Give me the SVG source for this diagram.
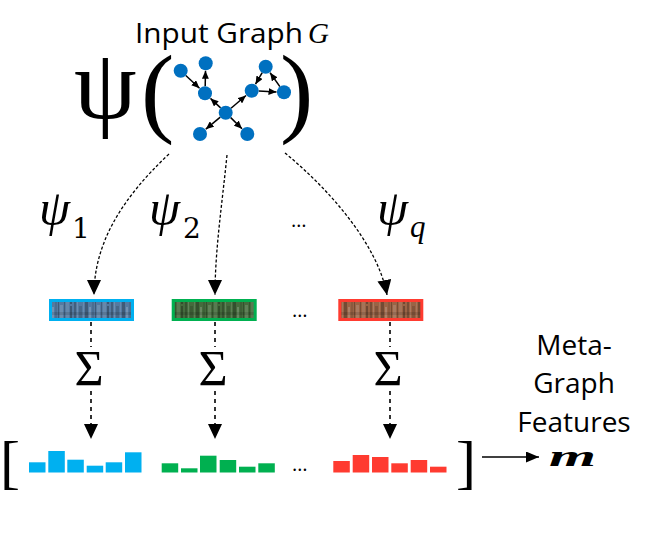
<svg xmlns="http://www.w3.org/2000/svg" width="658" height="539" viewBox="0 0 658 539">
<style>
.sans{font-family:"Open Sans","Liberation Sans",sans-serif;fill:#000}
.serif{font-family:"Liberation Serif","DejaVu Serif",serif;fill:#000}
.dj{font-family:"DejaVu Serif","Liberation Serif",serif;fill:#000}
.it{font-style:italic}
.gn{fill:#0070C0}
.ge{stroke:#000;stroke-width:1.5;fill:none;marker-end:url(#ahS)}
.dc{stroke:#000;stroke-width:1.3;fill:none;stroke-dasharray:3 2;marker-end:url(#ahB)}
.dv{stroke:#000;stroke-width:1.6;fill:none;stroke-dasharray:4 4}
.dva{stroke:#000;stroke-width:1.6;fill:none;stroke-dasharray:4 4;marker-end:url(#ahB)}
.bb{fill:#00B0F0}
.bg{fill:#00B050}
.br{fill:#FF3B30}
</style>
<defs>
<marker id="ahS" markerUnits="userSpaceOnUse" markerWidth="8" markerHeight="7" viewBox="0 0 8 7" refX="8" refY="3.5" orient="auto"><path d="M0,0 L8,3.5 L0,7 z" fill="#000"/></marker>
<marker id="ahB" markerUnits="userSpaceOnUse" markerWidth="15" markerHeight="14" viewBox="0 0 15 14" refX="15" refY="7" orient="auto"><path d="M0,0 L15,7 L0,14 z" fill="#000"/></marker>
<marker id="ahM" markerUnits="userSpaceOnUse" markerWidth="13" markerHeight="11" viewBox="0 0 13 11" refX="13" refY="5.5" orient="auto"><path d="M0,0 L13,5.5 L0,11 z" fill="#000"/></marker>
<pattern id="tex" patternUnits="userSpaceOnUse" width="37" height="19">
<rect x="0" y="0" width="2" height="19" fill="#000" fill-opacity="0.22"/>
<rect x="3" y="0" width="1" height="19" fill="#fff" fill-opacity="0.15"/>
<rect x="5" y="2" width="3" height="13" fill="#000" fill-opacity="0.15"/>
<rect x="9" y="0" width="1" height="19" fill="#fff" fill-opacity="0.12"/>
<rect x="11" y="0" width="3" height="19" fill="#000" fill-opacity="0.25"/>
<rect x="15" y="3" width="2" height="12" fill="#fff" fill-opacity="0.18"/>
<rect x="18" y="0" width="2" height="19" fill="#000" fill-opacity="0.1"/>
<rect x="21" y="0" width="1" height="19" fill="#000" fill-opacity="0.25"/>
<rect x="23" y="1" width="3" height="14" fill="#fff" fill-opacity="0.14"/>
<rect x="27" y="0" width="1" height="19" fill="#000" fill-opacity="0.22"/>
<rect x="29" y="0" width="3" height="19" fill="#fff" fill-opacity="0.1"/>
<rect x="33" y="2" width="2" height="17" fill="#000" fill-opacity="0.28"/>
<rect x="0" y="8" width="37" height="3" fill="#000" fill-opacity="0.12"/>
</pattern>
</defs>

<!-- Input graph node -->
<g id="input-graph">
<text class="sans" x="135" y="43" font-size="28"><tspan textLength="168" lengthAdjust="spacingAndGlyphs">Input Graph</tspan><tspan x="308" font-family="Liberation Serif, serif" font-style="italic" font-size="29">G</tspan></text>
<text class="serif" x="74" y="118" font-size="100">ψ</text>
<text class="serif" x="141" y="124" font-size="100">(</text>
<text class="serif" x="280" y="124" font-size="100">)</text>
<g id="graph-edges">
<line class="ge" x1="185.8" y1="75.5" x2="199.5" y2="88.2"/>
<line class="ge" x1="205.2" y1="86.3" x2="205.5" y2="70.8"/>
<line class="ge" x1="220.6" y1="107.9" x2="210.5" y2="98.4"/>
<line class="ge" x1="231.0" y1="108.2" x2="246.0" y2="95.5"/>
<line class="ge" x1="220.3" y1="117.2" x2="205.8" y2="129.2"/>
<line class="ge" x1="230.7" y1="117.6" x2="242.0" y2="128.7"/>
<line class="ge" x1="258.7" y1="91.0" x2="276.5" y2="91.9"/>
<line class="ge" x1="279.9" y1="86.6" x2="270.1" y2="72.8"/>
<line class="ge" x1="262.2" y1="72.7" x2="255.5" y2="84.2"/>
</g>
<circle id="gA" class="gn" cx="180.7" cy="70.7" r="7"/>
<circle id="gB" class="gn" cx="205.7" cy="63.3" r="7"/>
<circle id="gC" class="gn" cx="205" cy="93.3" r="7"/>
<circle id="gD" class="gn" cx="225.7" cy="112.7" r="7"/>
<circle id="gE" class="gn" cx="200" cy="134" r="7"/>
<circle id="gF" class="gn" cx="247.3" cy="134" r="7"/>
<circle id="gG" class="gn" cx="251.7" cy="90.7" r="7"/>
<circle id="gH" class="gn" cx="265.7" cy="66.7" r="7"/>
<circle id="gI" class="gn" cx="284" cy="92.3" r="7"/>
</g>

<!-- psi labels -->
<g id="psi-labels">
<text class="serif it" x="39" y="225" font-size="50">ψ</text>
<text class="dj" x="72" y="238" font-size="28">1</text>
<text class="serif it" x="149" y="225" font-size="50">ψ</text>
<text class="dj" x="183" y="238" font-size="28">2</text>
<text class="sans" x="291" y="227" font-size="20">…</text>
<text class="serif it" x="377" y="225" font-size="50">ψ</text>
<text class="serif it" x="410" y="237" font-size="31">q</text>
</g>

<!-- feature boxes -->
<g id="box-1">
<rect x="50.5" y="300.5" width="82" height="19" fill="#557aa0"/>
<rect x="50.5" y="300.5" width="82" height="19" fill="url(#tex)"/>
<rect x="50.5" y="300.5" width="82" height="19" fill="none" stroke="#00B0F0" stroke-width="3"/>
</g>
<g id="box-2">
<rect x="173.2" y="300.5" width="82" height="19" fill="#456b3d"/>
<rect x="173.2" y="300.5" width="82" height="19" fill="url(#tex)"/>
<rect x="173.2" y="300.5" width="82" height="19" fill="none" stroke="#00B050" stroke-width="3"/>
</g>
<text id="box-dots" class="sans" x="292" y="317" font-size="20">…</text>
<g id="box-q">
<rect x="339.8" y="300.5" width="82" height="19" fill="#9a6446"/>
<rect x="339.8" y="300.5" width="82" height="19" fill="url(#tex)"/>
<rect x="339.8" y="300.5" width="82" height="19" fill="none" stroke="#FF3B30" stroke-width="3"/>
</g>

<!-- sums -->
<g id="sums">
<text class="serif" x="89" y="385" font-size="50" text-anchor="middle">Σ</text>
<text class="serif" x="213" y="385" font-size="50" text-anchor="middle">Σ</text>
<text class="serif" x="388" y="385" font-size="50" text-anchor="middle">Σ</text>
</g>

<!-- histograms -->
<g id="hist-1">
<rect class="bb" x="29" y="462.3" width="16.5" height="10.2"/>
<rect class="bb" x="48.3" y="451" width="16.5" height="21.5"/>
<rect class="bb" x="67.3" y="459.7" width="16.5" height="12.8"/>
<rect class="bb" x="86.7" y="465.7" width="16.5" height="6.8"/>
<rect class="bb" x="105.7" y="462.3" width="16.5" height="10.2"/>
<rect class="bb" x="125" y="452.3" width="16.5" height="20.2"/>
</g>
<g id="hist-2">
<rect class="bg" x="161.7" y="463.3" width="16.5" height="9.2"/>
<rect class="bg" x="181" y="468.3" width="16.5" height="4.2"/>
<rect class="bg" x="200" y="455.7" width="16.5" height="16.8"/>
<rect class="bg" x="219.7" y="460" width="16.5" height="12.5"/>
<rect class="bg" x="239" y="466.7" width="16.5" height="5.8"/>
<rect class="bg" x="258.3" y="463.3" width="16.5" height="9.2"/>
</g>
<text id="hist-dots" class="sans" x="292" y="471" font-size="20">…</text>
<g id="hist-q">
<rect class="br" x="333.3" y="461" width="16.5" height="11.5"/>
<rect class="br" x="352.7" y="455" width="16.5" height="17.5"/>
<rect class="br" x="372" y="457" width="16.5" height="15.5"/>
<rect class="br" x="391.3" y="463.3" width="16.5" height="9.2"/>
<rect class="br" x="410.7" y="460" width="16.5" height="12.5"/>
<rect class="br" x="430" y="466.7" width="16.5" height="5.8"/>
</g>
<g id="brackets">
<text class="serif" x="0" y="482" font-size="60">[</text>
<text class="serif" x="456" y="482" font-size="60">]</text>
</g>

<!-- output -->
<g id="output">
<text class="sans" x="574" y="355" font-size="28" text-anchor="middle">Meta-</text>
<text class="sans" x="574" y="393" font-size="28" text-anchor="middle">Graph</text>
<text class="sans" x="574" y="432" font-size="28" text-anchor="middle">Features</text>
<text class="serif it" x="549" y="466" font-size="29" font-weight="bold" textLength="47" lengthAdjust="spacingAndGlyphs">m</text>
</g>

<!-- connectors -->
<g id="connectors">
<path class="dc" d="M169,154 C120,200 94,245 94,295"/>
<path class="dc" d="M227,155 C222,205 215,250 215,295"/>
<path class="dc" d="M285,153 C330,190 378,245 387,295"/>
<path class="dv" d="M91,322 V347"/>
<path class="dv" d="M215,322 V347"/>
<path class="dv" d="M390,322 V347"/>
<path class="dva" d="M91,391 V439"/>
<path class="dva" d="M215,391 V439"/>
<path class="dva" d="M390,391 V439"/>
<path d="M482,457 H539" stroke="#000" stroke-width="1.6" fill="none" marker-end="url(#ahM)"/>
</g>
</svg>
